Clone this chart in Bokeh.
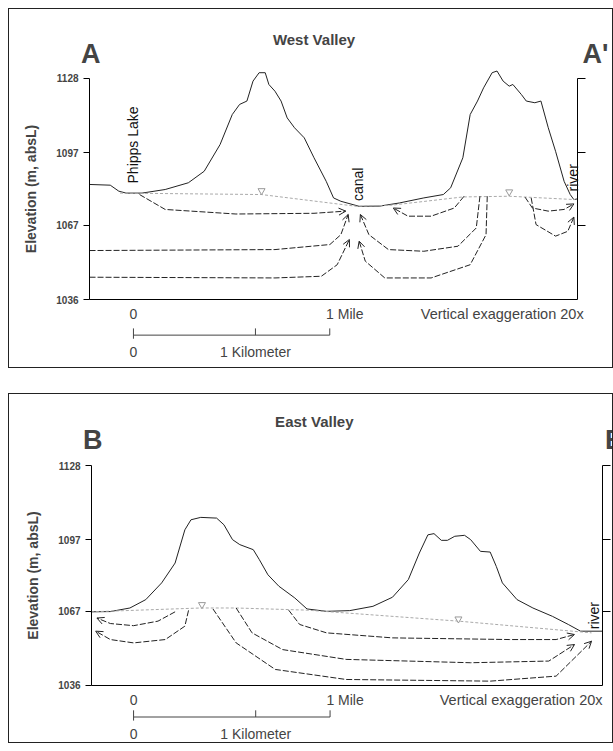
import numpy as np
from bokeh.plotting import figure
from bokeh.models import Range1d, LinearAxis, FixedTicker, Label, Arrow, OpenHead
from bokeh.layouts import column
from bokeh.embed import file_html
from bokeh.resources import INLINE

FONT = "Liberation Sans"
Y_TICKS = [1036, 1067, 1097, 1128]

# ---------------- West Valley (A - A') ----------------
west_x = [-0.36,-0.19,-0.12,-0.06,0.07,0.26,0.45,0.58,0.71,0.81,0.87,0.93,0.98,1.03,1.08,1.11,1.16,1.21,1.26,1.32,1.40,1.48,1.58,1.64,1.70,1.80,1.85,2.02,2.18,2.38,2.54,2.60,2.70,2.76,2.82,2.87,2.94,2.98,3.03,3.08,3.11,3.18,3.22,3.29,3.34,3.40,3.46,3.53,3.58,3.61,3.64]
west_z = [1083.9,1083.6,1081.1,1080.3,1080.3,1081.8,1084.6,1089.4,1100.5,1113.0,1117.2,1118.6,1126.9,1130.4,1130.4,1125.5,1122.7,1118.6,1111.6,1107.5,1103.3,1095.0,1085.2,1078.3,1076.9,1075.5,1074.8,1074.9,1076.2,1078.3,1079.7,1082.5,1095.0,1113.0,1118.6,1124.1,1130.4,1131.1,1126.9,1124.8,1125.5,1121.3,1118.6,1117.9,1118.6,1107.5,1097.7,1085.2,1079.7,1077.6,1077.9]
west_wt_x = [-0.11,1.05,1.83,2.12,2.70,3.08,3.62]
west_wt_z = [1080.3,1079.7,1074.8,1075.3,1078.7,1079.0,1077.6]
west_tri_x = [1.05,3.08]
west_tri_z = [1081.3,1080.8]
west_flows = [
    ([0.05,0.26,0.84,1.48,1.74],[1079.7,1073.5,1071.6,1071.9,1072.8]),
    ([-0.36,1.16,1.61,1.70,1.76],[1056.4,1056.8,1058.9,1063.0,1071.4]),
    ([-0.36,1.16,1.54,1.67,1.77],[1045.3,1045.0,1045.7,1050.5,1061.0]),
    ([2.90,2.89,2.76,2.44,2.06,1.90,1.85],[1079.0,1063.0,1050.5,1045.0,1045.0,1052.0,1060.3]),
    ([2.84,2.81,2.66,2.38,2.09,1.93,1.86],[1079.0,1065.8,1058.2,1056.1,1056.8,1063.0,1071.4]),
    ([2.71,2.63,2.44,2.25,2.13],[1079.0,1074.1,1070.7,1070.7,1074.1]),
    ([3.21,3.27,3.40,3.53,3.61],[1078.6,1074.1,1072.8,1073.5,1075.8]),
    ([3.26,3.30,3.46,3.56,3.61],[1078.3,1067.2,1062.4,1064.4,1070.3]),
]

# ---------------- East Valley (B - B') ----------------
east_x = [-0.35,-0.19,-0.03,0.10,0.23,0.34,0.42,0.47,0.55,0.68,0.74,0.81,0.87,0.98,1.03,1.10,1.19,1.32,1.42,1.58,1.77,1.96,2.12,2.25,2.34,2.41,2.46,2.52,2.57,2.63,2.71,2.76,2.84,2.92,2.97,3.02,3.14,3.27,3.43,3.56,3.66,3.84]
east_z = [1066.8,1066.9,1068.4,1071.9,1078.9,1087.2,1101.1,1105.3,1106.3,1106.0,1103.2,1097.0,1094.9,1092.8,1088.6,1082.3,1077.5,1072.6,1068.0,1067.0,1067.3,1069.1,1072.9,1080.3,1091.4,1099.0,1099.5,1096.7,1096.7,1098.4,1098.8,1097.0,1092.1,1091.8,1085.8,1078.9,1071.9,1068.4,1064.9,1061.5,1058.7,1058.7]
east_wt_x = [-0.35,0.55,0.84,1.42,2.66,3.75]
east_wt_z = [1066.8,1068.4,1068.4,1067.5,1062.9,1058.0]
east_tri_x = [0.56,2.66]
east_tri_z = [1069.8,1063.8]
east_flows = [
    ([0.34,0.20,0.00,-0.19,-0.30],[1066.8,1062.9,1061.0,1061.9,1064.2]),
    ([0.45,0.42,0.26,0.00,-0.19,-0.31],[1067.4,1060.8,1055.2,1053.8,1055.2,1058.7]),
    ([1.27,1.36,1.58,2.12,3.08,3.46,3.61],[1067.5,1061.5,1058.0,1055.9,1055.2,1055.2,1057.3]),
    ([0.84,0.97,1.22,1.74,2.76,3.40,3.61],[1068.4,1058.0,1051.0,1046.9,1045.5,1046.2,1053.1]),
    ([0.65,0.84,1.16,1.74,2.92,3.46,3.75],[1068.0,1053.8,1042.7,1038.5,1037.8,1039.9,1054.5]),
]


def make_panel(title, letter, letter2, frame_x, full_x, full_y, height, terrain, wt, tri,
               flows, places, title_y, letter_y, scale_y, ve_x, right_x):
    p = figure(width=605, height=height, output_backend="svg", toolbar_location=None,
               x_range=Range1d(*full_x), y_range=Range1d(*full_y),
               x_axis_type=None, y_axis_type=None,
               min_border_left=0, min_border_right=0, min_border_top=0, min_border_bottom=0)
    p.styles = {"border": "1.5px solid #222", "box-sizing": "border-box"}
    p.outline_line_color = None
    p.xgrid.visible = False
    p.ygrid.visible = False

    la = LinearAxis(ticker=FixedTicker(ticks=Y_TICKS), fixed_location=frame_x[0],
                    bounds=(1036, 1128))
    la.minor_tick_line_color = None
    la.major_tick_in = 0
    la.major_tick_out = 6
    la.major_label_text_font = FONT
    la.major_label_text_font_style = "bold"
    la.major_label_text_font_size = "10px"
    la.axis_label = "Elevation (m, absL)"
    la.axis_label_text_font = FONT
    la.axis_label_text_font_style = "bold"
    la.axis_label_text_font_size = "14px"
    la.axis_label_standoff = 14
    p.add_layout(la, "left")

    ra = LinearAxis(ticker=FixedTicker(ticks=[1067, 1097, 1128]), fixed_location=frame_x[1],
                    bounds=(1036, 1128))
    ra.major_label_overrides = {1067: "", 1097: "", 1128: ""}
    ra.minor_tick_line_color = None
    ra.major_tick_in = 0
    ra.major_tick_out = 8
    p.add_layout(ra, "right")

    ba = LinearAxis(ticker=FixedTicker(ticks=[]), fixed_location=1036, bounds=frame_x)
    ba.minor_tick_line_color = None
    p.add_layout(ba, "below")

    p.line(terrain[0], terrain[1], line_color="#222", line_width=1)
    p.line(wt[0], wt[1], line_color="#aaaaaa", line_width=1, line_dash="3 2")
    p.scatter(tri[0], tri[1], marker="inverted_triangle", size=7,
              fill_color="white", line_color="#999999")
    for fx, fz in flows:
        p.line(fx, fz, line_color="#222", line_width=1, line_dash="6 2")
        p.add_layout(Arrow(end=OpenHead(size=7, line_width=1, line_color="#222"),
                           x_start=fx[-2], y_start=fz[-2], x_end=fx[-1], y_end=fz[-1],
                           line_alpha=0))
    for txt, x, y in places:
        p.add_layout(Label(x=x, y=y, text=txt, angle=np.pi / 2, text_align="left",
                           text_baseline="middle", text_font=FONT,
                           text_font_size="14px", text_color="#111"))
    p.add_layout(Label(x=1.48, y=title_y, text=title, text_align="center",
                       text_baseline="middle", text_font=FONT, text_font_style="bold",
                       text_font_size="15px"))
    p.add_layout(Label(x=frame_x[0] - 0.07, y=letter_y, text=letter, text_baseline="middle",
                       text_font=FONT, text_font_style="bold", text_font_size="27px"))
    p.add_layout(Label(x=right_x, y=letter_y, text=letter2, text_baseline="middle",
                       text_font=FONT, text_font_style="bold", text_font_size="27px"))
    p.add_layout(Label(x=ve_x, y=scale_y[0], text="Vertical exaggeration 20x",
                       text_align="right", text_baseline="middle", text_font=FONT,
                       text_font_size="14.5px"))
    mile, km = 1.609, 1.0
    for txt, x, y, al in [("0", 0, scale_y[0], "center"), ("1 Mile", mile - 0.03, scale_y[0], "left"),
                          ("0", 0, scale_y[3], "center"), ("1 Kilometer", km, scale_y[3], "center")]:
        p.add_layout(Label(x=x, y=y, text=txt, text_align=al, text_baseline="middle",
                           text_font=FONT, text_font_size="14px"))
    bar, tick = scale_y[1], scale_y[2]
    for xs, ys, xe, ye in [(0, bar, mile, bar), (0, bar - 1.5, 0, bar + tick),
                           (mile, bar, mile, bar + tick), (km, bar, km, bar + tick)]:
        p.add_layout(Arrow(end=None, x_start=xs, y_start=ys, x_end=xe, y_end=ye,
                           line_color="#444", line_width=1))
    return p


p1 = make_panel("West Valley", "A", "A'", (-0.36, 3.64), (-1.016, 3.943), (1006.9, 1156.7), 360,
                (west_x, west_z), (west_wt_x, west_wt_z), (west_tri_x, west_tri_z),
                west_flows, [("Phipps Lake", 0.0, 1084.3), ("canal", 1.84, 1077.0),
                             ("river", 3.60, 1081.0)],
                1144.2, 1138.0, (1030.0, 1021.2, 2.8, 1014.0), 3.69, 3.68)
p2 = make_panel("East Valley", "B", "B'", (-0.344, 3.84), (-1.016, 3.938), (1011.3, 1157.7), 350,
                (east_x, east_z), (east_wt_x, east_wt_z), (east_tri_x, east_tri_z),
                east_flows, [("river", 3.77, 1059.5)],
                1146.4, 1138.7, (1030.0, 1022.8, 2.8, 1015.5), 3.84, 3.86)

layout = column(p1, p2, spacing=25, margin=(8, 0, 0, 8))
open("out.html", "w").write(file_html(layout, INLINE))
